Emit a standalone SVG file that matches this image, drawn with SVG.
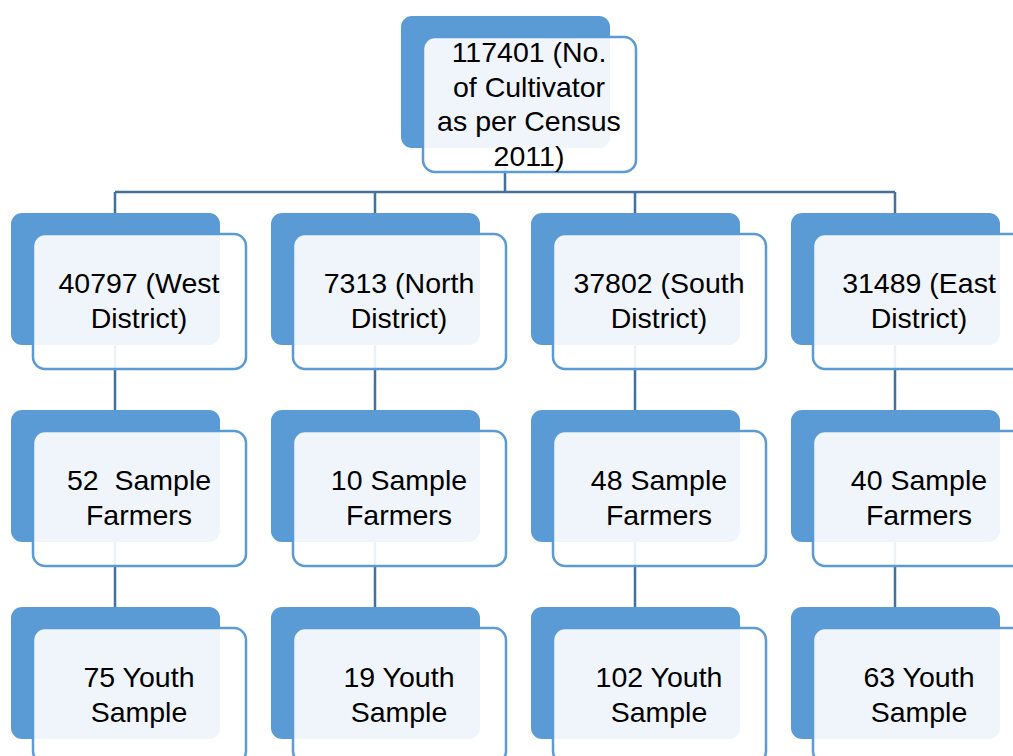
<svg xmlns="http://www.w3.org/2000/svg" width="1013" height="756" viewBox="0 0 1013 756">
<style>
.back{fill:#5B9BD5;}
.front{fill:#ffffff;fill-opacity:0.9;stroke:#5B9BD5;stroke-width:2.5;}
.conn{stroke:#41719C;stroke-width:2.5;fill:none;}
text{font-family:"Liberation Sans",Arial,sans-serif;font-size:28.5px;fill:#000;text-anchor:middle;white-space:pre;}
</style>
<rect width="1013" height="756" fill="#ffffff"/>
<g id="connectors">
<path class="conn" d="M505,160 V192 M115,192 H895 M115,192 V213 M375,192 V213 M635,192 V213 M895,192 V213"/>
<path class="conn" d="M115,340 V410 M375,340 V410 M635,340 V410 M895,340 V410"/>
<path class="conn" d="M115,537 V607 M375,537 V607 M635,537 V607 M895,537 V607"/>
</g>
<g id="n-top">
<rect class="back" x="401" y="16" width="209" height="132" rx="11"/>
<rect class="front" x="423" y="37" width="213" height="135" rx="12"/>
<text x="529" y="62">117401 (No.</text>
<text x="529" y="97">of Cultivator</text>
<text x="529" y="131">as per Census</text>
<text x="529" y="166">2011)</text>
</g>
<g id="n-west">
<rect class="back" x="11" y="213" width="209" height="132" rx="11"/>
<rect class="front" x="33" y="234" width="213" height="135" rx="12"/>
<text x="139" y="293">40797 (West</text>
<text x="139" y="328">District)</text>
</g>
<g id="n-north">
<rect class="back" x="271" y="213" width="209" height="132" rx="11"/>
<rect class="front" x="293" y="234" width="213" height="135" rx="12"/>
<text x="399" y="293">7313 (North</text>
<text x="399" y="328">District)</text>
</g>
<g id="n-south">
<rect class="back" x="531" y="213" width="209" height="132" rx="11"/>
<rect class="front" x="553" y="234" width="213" height="135" rx="12"/>
<text x="659" y="293">37802 (South</text>
<text x="659" y="328">District)</text>
</g>
<g id="n-east">
<rect class="back" x="791" y="213" width="209" height="132" rx="11"/>
<rect class="front" x="813" y="234" width="213" height="135" rx="12"/>
<text x="919" y="293">31489 (East</text>
<text x="919" y="328">District)</text>
</g>
<g id="n-west-farmers">
<rect class="back" x="11" y="410" width="209" height="132" rx="11"/>
<rect class="front" x="33" y="431" width="213" height="135" rx="12"/>
<text x="139" y="490">52  Sample</text>
<text x="139" y="525">Farmers</text>
</g>
<g id="n-north-farmers">
<rect class="back" x="271" y="410" width="209" height="132" rx="11"/>
<rect class="front" x="293" y="431" width="213" height="135" rx="12"/>
<text x="399" y="490">10 Sample</text>
<text x="399" y="525">Farmers</text>
</g>
<g id="n-south-farmers">
<rect class="back" x="531" y="410" width="209" height="132" rx="11"/>
<rect class="front" x="553" y="431" width="213" height="135" rx="12"/>
<text x="659" y="490">48 Sample</text>
<text x="659" y="525">Farmers</text>
</g>
<g id="n-east-farmers">
<rect class="back" x="791" y="410" width="209" height="132" rx="11"/>
<rect class="front" x="813" y="431" width="213" height="135" rx="12"/>
<text x="919" y="490">40 Sample</text>
<text x="919" y="525">Farmers</text>
</g>
<g id="n-west-youth">
<rect class="back" x="11" y="607" width="209" height="132" rx="11"/>
<rect class="front" x="33" y="628" width="213" height="135" rx="12"/>
<text x="139" y="687">75 Youth</text>
<text x="139" y="722">Sample</text>
</g>
<g id="n-north-youth">
<rect class="back" x="271" y="607" width="209" height="132" rx="11"/>
<rect class="front" x="293" y="628" width="213" height="135" rx="12"/>
<text x="399" y="687">19 Youth</text>
<text x="399" y="722">Sample</text>
</g>
<g id="n-south-youth">
<rect class="back" x="531" y="607" width="209" height="132" rx="11"/>
<rect class="front" x="553" y="628" width="213" height="135" rx="12"/>
<text x="659" y="687">102 Youth</text>
<text x="659" y="722">Sample</text>
</g>
<g id="n-east-youth">
<rect class="back" x="791" y="607" width="209" height="132" rx="11"/>
<rect class="front" x="813" y="628" width="213" height="135" rx="12"/>
<text x="919" y="687">63 Youth</text>
<text x="919" y="722">Sample</text>
</g>
</svg>
